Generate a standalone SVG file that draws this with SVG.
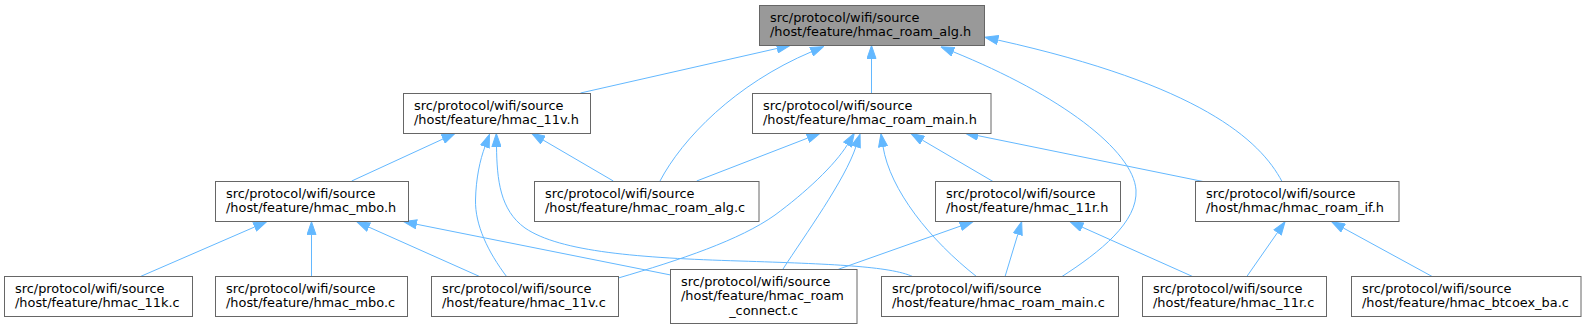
<svg xmlns="http://www.w3.org/2000/svg" width="1587" height="329" viewBox="0 0 1587 329">
<style>
.n rect{fill:#ffffff;stroke:#666666;stroke-width:1}
.n.root rect{fill:#999999}
.n text{font-family:"DejaVu Sans","Liberation Sans",sans-serif;font-size:12.9px;fill:#000000}
.e path{fill:none;stroke:#63b8ff;stroke-width:1;marker-end:url(#ah)}
</style>
<defs>
<marker id="ah" viewBox="0 0 14 10" refX="0.5" refY="5" markerWidth="14" markerHeight="10" markerUnits="userSpaceOnUse" orient="auto">
<path d="M0.5,0.5 L13.5,5 L0.5,9.5 Z" fill="#63b8ff" stroke="#63b8ff" stroke-width="1"/>
</marker>
</defs>
<rect x="0" y="0" width="1587" height="329" fill="#ffffff"/>
<g class="e" id="edges">
<path d="M580.5,93 L777.3,48.4"/>
<path d="M660,181 C682,139 735,84 811.6,51.7"/>
<path d="M871.5,93 L871.5,58.5"/>
<path d="M1061.7,276.7 C1100,252 1138,222 1136,190 C1133,150 1060,95 953,51.7"/>
<path d="M1282,181.5 C1260,140 1200,85 997.7,40"/>
<path d="M351.7,181 L443.2,138.9"/>
<path d="M506.7,276.7 C488,252 475,225 475.5,200 C476,178 480,160 485,146.5"/>
<path d="M913,276.7 C890,266 830,264 740,261 C640,258 560,252 525,228 C500,210 497,180 496.5,146.5"/>
<path d="M613.3,181 L542.9,139.9"/>
<path d="M696.7,181 L807.9,138"/>
<path d="M618.3,278 C680,260 740,240 775,215 C805,193 835,165 847.5,144.5"/>
<path d="M783,269 C805,235 845,180 856,146.5"/>
<path d="M976.7,276.7 C930,240 890,190 883,146.5"/>
<path d="M993,181.5 L922.2,140"/>
<path d="M1203,181.5 L977.7,135.6"/>
<path d="M140,276.7 L254.8,226.9"/>
<path d="M311.5,276.7 L311.5,234.7"/>
<path d="M480,276.7 L368.6,227"/>
<path d="M670.7,275 L416.3,224.2"/>
<path d="M838.3,269.3 L960.7,226"/>
<path d="M1005,276.7 L1017.9,234.1"/>
<path d="M1193,276.7 L1081.9,227"/>
<path d="M1246.7,276.7 L1277.6,232.4"/>
<path d="M1432.5,276.7 L1343.1,227.9"/>
</g>
<g class="n root" id="node_roam_alg_h">
<rect x="759.5" y="5.5" width="225" height="40"/>
<text x="770" y="21.8">src/protocol/wifi/source</text>
<text x="770" y="36.3">/host/feature/hmac_roam_alg.h</text>
</g>
<g class="n" id="node_11v_h">
<rect x="403.5" y="93.5" width="187" height="40"/>
<text x="414" y="109.8">src/protocol/wifi/source</text>
<text x="414" y="124.3">/host/feature/hmac_11v.h</text>
</g>
<g class="n" id="node_roam_main_h">
<rect x="752.5" y="93.5" width="238.5" height="40"/>
<text x="763" y="109.8">src/protocol/wifi/source</text>
<text x="763" y="124.3">/host/feature/hmac_roam_main.h</text>
</g>
<g class="n" id="node_mbo_h">
<rect x="215.5" y="181.5" width="193" height="40"/>
<text x="226" y="197.8">src/protocol/wifi/source</text>
<text x="226" y="212.3">/host/feature/hmac_mbo.h</text>
</g>
<g class="n" id="node_roam_alg_c">
<rect x="534.5" y="181.5" width="224.5" height="40"/>
<text x="545" y="197.8">src/protocol/wifi/source</text>
<text x="545" y="212.3">/host/feature/hmac_roam_alg.c</text>
</g>
<g class="n" id="node_11r_h">
<rect x="935.5" y="181.5" width="185" height="40"/>
<text x="946" y="197.8">src/protocol/wifi/source</text>
<text x="946" y="212.3">/host/feature/hmac_11r.h</text>
</g>
<g class="n" id="node_roam_if_h">
<rect x="1195.5" y="181.5" width="203.5" height="40"/>
<text x="1206" y="197.8">src/protocol/wifi/source</text>
<text x="1206" y="212.3">/host/hmac/hmac_roam_if.h</text>
</g>
<g class="n" id="node_11k_c">
<rect x="4.5" y="276.5" width="188" height="40"/>
<text x="15" y="292.8">src/protocol/wifi/source</text>
<text x="15" y="307.3">/host/feature/hmac_11k.c</text>
</g>
<g class="n" id="node_mbo_c">
<rect x="215.5" y="276.5" width="192" height="40"/>
<text x="226" y="292.8">src/protocol/wifi/source</text>
<text x="226" y="307.3">/host/feature/hmac_mbo.c</text>
</g>
<g class="n" id="node_11v_c">
<rect x="431.5" y="276.5" width="187" height="40"/>
<text x="442" y="292.8">src/protocol/wifi/source</text>
<text x="442" y="307.3">/host/feature/hmac_11v.c</text>
</g>
<g class="n" id="node_roam_connect_c">
<rect x="670.5" y="269.5" width="186.5" height="54"/>
<text x="681" y="285.6">src/protocol/wifi/source</text>
<text x="681" y="300.1">/host/feature/hmac_roam</text>
<text x="763.7" y="314.6" text-anchor="middle">_connect.c</text>
</g>
<g class="n" id="node_roam_main_c">
<rect x="881.5" y="276.5" width="237" height="40"/>
<text x="892" y="292.8">src/protocol/wifi/source</text>
<text x="892" y="307.3">/host/feature/hmac_roam_main.c</text>
</g>
<g class="n" id="node_11r_c">
<rect x="1142.5" y="276.5" width="184" height="40"/>
<text x="1153" y="292.8">src/protocol/wifi/source</text>
<text x="1153" y="307.3">/host/feature/hmac_11r.c</text>
</g>
<g class="n" id="node_btcoex_ba_c">
<rect x="1351.5" y="276.5" width="229.5" height="40"/>
<text x="1362" y="292.8">src/protocol/wifi/source</text>
<text x="1362" y="307.3">/host/feature/hmac_btcoex_ba.c</text>
</g>
</svg>
